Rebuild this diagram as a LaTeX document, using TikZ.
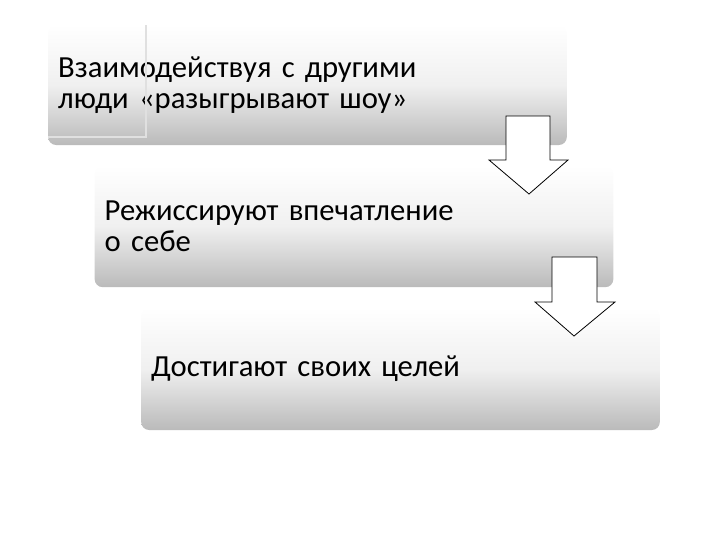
\documentclass[tikz,border=0pt]{standalone}
\usepackage{fontspec}
\setmainfont{Carlito}
\usepackage{xcolor}
\usepackage{tikz}
\usetikzlibrary{positioning,calc}

\tikzset{
	stagebox/.style={rounded corners=6pt, top color=white, bottom color=black!27, middle color=black!6, draw=none,
		minimum width=389pt, text width=374pt, align=left, inner xsep=7.5pt, font=\fontsize{23}{23.5}\selectfont},
	downarrow/.style={fill=white, draw=black, line width=0.6pt, line join=miter}
}

\begin{document}
\begin{tikzpicture}[x=0.75pt,y=0.75pt,yscale=-1,xscale=1]
	\useasboundingbox (0,0) rectangle (720,540);

	%Boxes
	\node [stagebox, minimum height=90pt] (stage1) at (307.5,85) {Взаимодействуя с другими\\люди «разыгрывают шоу»};
	\node [stagebox, minimum height=91pt] (stage2) at (354,226.5) {Режиссируют впечатление\\о себе};
	\node [stagebox, minimum height=91.5pt] (stage3) at (400.5,369) {Достигают своих целей};

	%faint frame in first box
	\draw [color=white!88!black, line width=0.8] (146,25) -- (146,137) -- (48,137) ;

	%Arrow 1
	\draw [downarrow] (506,116) -- (550,116) -- (550,160) -- (568,160) -- (529,194) -- (489,160) -- (506,160) -- cycle ;
	%Arrow 2
	\draw [downarrow] (552,257) -- (597,257) -- (597,302) -- (615,302) -- (574,336) -- (535,302) -- (552,302) -- cycle ;
\end{tikzpicture}
\end{document}
